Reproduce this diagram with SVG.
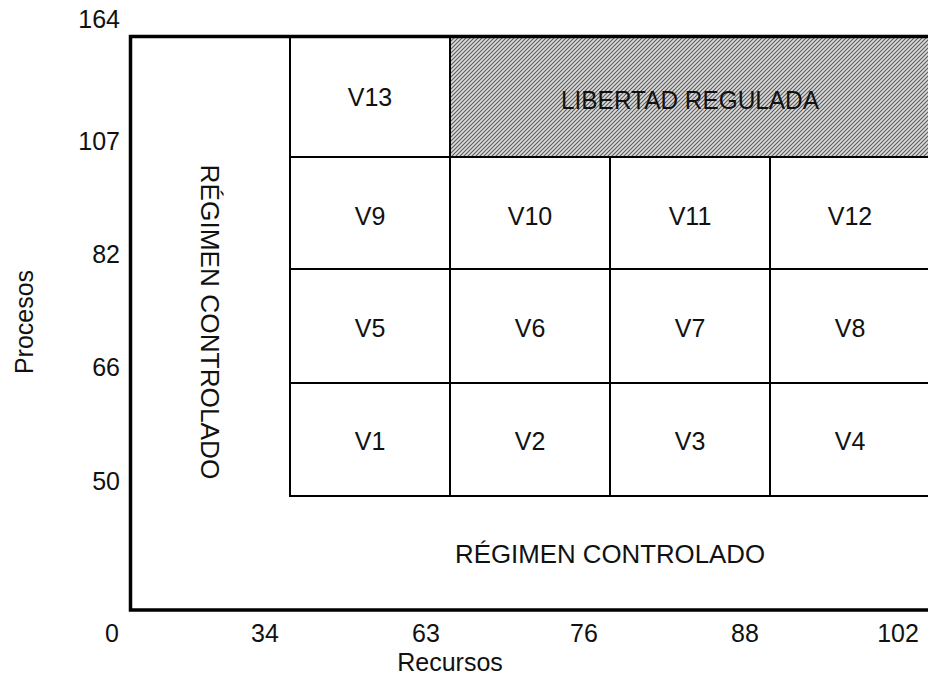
<svg xmlns="http://www.w3.org/2000/svg" width="928" height="683" viewBox="0 0 928 683">
  <style>
    text { font-family: "Liberation Sans", Arial, sans-serif; font-size: 25px; fill: #111; }
    .c { text-anchor: middle; }
    .r { text-anchor: end; }
    .grid { stroke: #000; stroke-width: 2; fill: none; }
    .axis { stroke: #000; stroke-width: 3.5; fill: none; }
  </style>
  <defs>
    <pattern id="hatch" width="4" height="4" patternUnits="userSpaceOnUse">
      <rect width="4" height="4" fill="#dcdcdc"/>
      <path d="M0,4 L4,0 M-1,1 L1,-1 M3,5 L5,3" stroke="#5a5a5a" stroke-width="1.1"/>
    </pattern>
  </defs>
  <rect width="928" height="683" fill="#fff"/>

  <g id="libertad-regulada">
    <rect x="450" y="37" width="478" height="120" fill="url(#hatch)"/>
    <text class="c" x="690" y="109" textLength="258" lengthAdjust="spacingAndGlyphs">LIBERTAD REGULADA</text>
  </g>

  <g id="grid">
    <line class="grid" x1="290" y1="37" x2="290" y2="497"/>
    <line class="grid" x1="450" y1="37" x2="450" y2="497"/>
    <line class="grid" x1="610" y1="157" x2="610" y2="497"/>
    <line class="grid" x1="770" y1="157" x2="770" y2="497"/>
    <line class="grid" x1="289" y1="157" x2="928" y2="157"/>
    <line class="grid" x1="290" y1="269" x2="928" y2="269"/>
    <line class="grid" x1="290" y1="383" x2="928" y2="383"/>
    <line class="grid" x1="289" y1="496" x2="928" y2="496"/>
  </g>

  <g id="V13"><text class="c" x="370" y="106">V13</text></g>
  <g id="V9"><text class="c" x="370" y="225">V9</text></g>
  <g id="V10"><text class="c" x="530" y="225">V10</text></g>
  <g id="V11"><text class="c" x="690" y="225">V11</text></g>
  <g id="V12"><text class="c" x="850" y="225">V12</text></g>
  <g id="V5"><text class="c" x="370" y="337">V5</text></g>
  <g id="V6"><text class="c" x="530" y="337">V6</text></g>
  <g id="V7"><text class="c" x="690" y="337">V7</text></g>
  <g id="V8"><text class="c" x="850" y="337">V8</text></g>
  <g id="V1"><text class="c" x="370" y="450">V1</text></g>
  <g id="V2"><text class="c" x="530" y="450">V2</text></g>
  <g id="V3"><text class="c" x="690" y="450">V3</text></g>
  <g id="V4"><text class="c" x="850" y="450">V4</text></g>

  <g id="regimen-izq">
    <text class="c" transform="translate(201,322) rotate(90)" textLength="315" lengthAdjust="spacingAndGlyphs">RÉGIMEN CONTROLADO</text>
  </g>
  <g id="regimen-abajo">
    <text class="c" x="610" y="563" textLength="310" lengthAdjust="spacingAndGlyphs">RÉGIMEN CONTROLADO</text>
  </g>

  <g id="axes">
    <polyline class="axis" points="928,36.5 130.5,36.5 130.5,610 928,610"/>
  </g>

  <g id="y-labels">
    <text class="r" x="120" y="28">164</text>
    <text class="r" x="120" y="150">107</text>
    <text class="r" x="120" y="263">82</text>
    <text class="r" x="120" y="376">66</text>
    <text class="r" x="120" y="490">50</text>
    <text class="c" transform="translate(33,322) rotate(-90)">Procesos</text>
  </g>
  <g id="x-labels">
    <text class="c" x="112" y="642">0</text>
    <text class="c" x="265" y="642">34</text>
    <text class="c" x="426" y="642">63</text>
    <text class="c" x="584" y="642">76</text>
    <text class="c" x="745" y="642">88</text>
    <text class="c" x="898" y="642">102</text>
    <text class="c" x="450" y="671">Recursos</text>
  </g>
</svg>
